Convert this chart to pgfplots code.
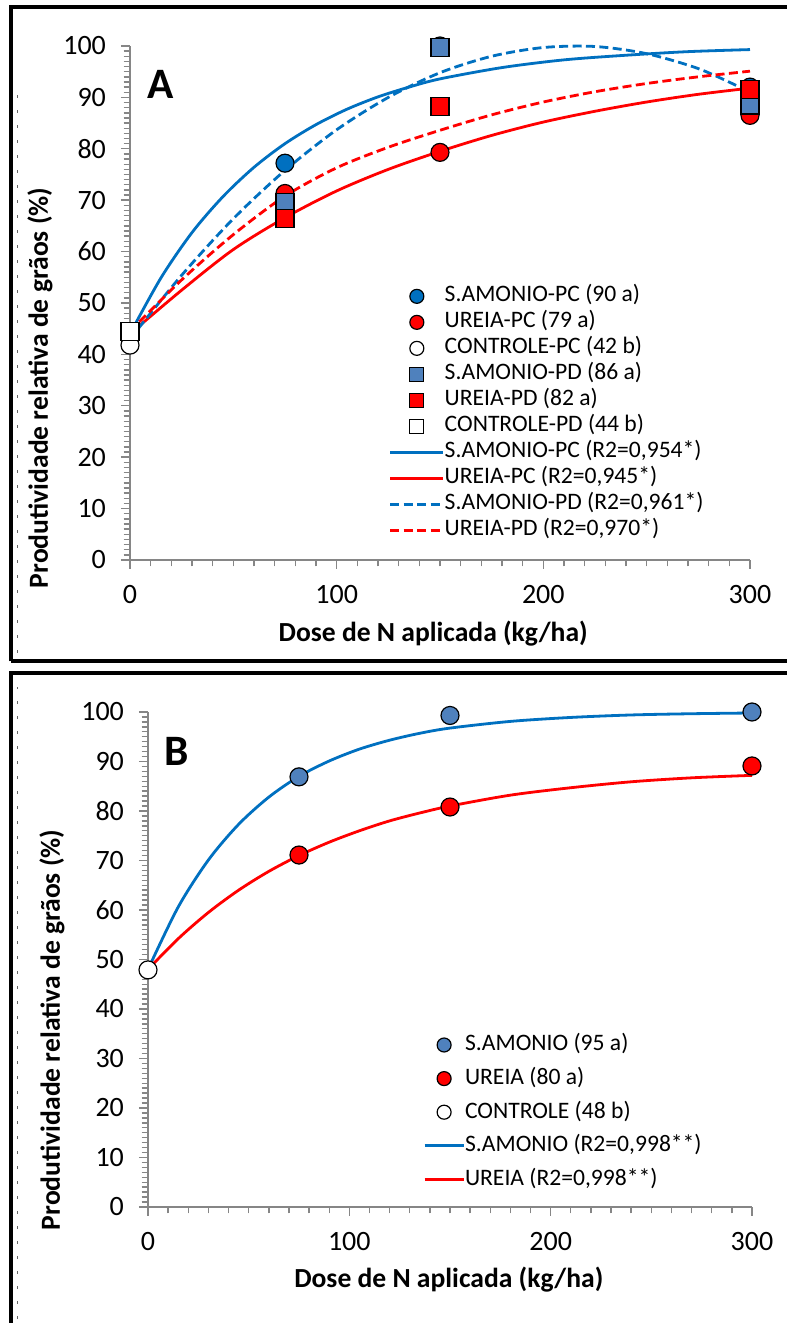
\documentclass[border=0pt]{standalone}
\usepackage{fontspec}
\setmainfont{Carlito}
\usepackage{pgfplots}
\pgfplotsset{compat=1.18}

\definecolor{xlblue}{HTML}{0070C0}
\definecolor{xlsteel}{HTML}{4F81BD}
\definecolor{xlred}{HTML}{FF0000}
\definecolor{axgray}{HTML}{868686}

\pgfplotsset{
  panel/.style={
    scale only axis, clip=false,
    axis lines*=left,
    axis line style={axgray, line width=0.9pt},
    xmin=0, xmax=300, ymin=0, ymax=100,
    xtick={0,100,200,300}, ytick={0,10,...,100},
    minor x tick num=9, minor y tick num=9,
    tick align=outside,
    major tick length=4.5pt, minor tick length=3.2pt,
    tick style={axgray, line width=0.7pt},
    tick label style={font=\fontsize{14}{16}\selectfont},
    xticklabel style={yshift=-4.5pt},
    yticklabel style={xshift=-4pt},
    /pgf/number format/assume math mode=true,
    legend cell align=left,
  },
  dot/.style={only marks, mark=*, mark size=4.5pt,
    mark options={draw=black, line width=0.6pt, fill=#1},
    legend image code/.code={\draw[##1, mark size=3.5pt] plot coordinates {(0pt,0pt)};}},
  sq/.style={only marks, mark=square*, mark size=4.5pt,
    mark options={draw=black, line width=0.6pt, fill=#1},
    legend image code/.code={\draw[##1, mark size=3.5pt] plot coordinates {(0pt,0pt)};}},
  fit/.style={no marks, line width=1.4pt, color=#1, smooth},
  longline/.style={legend image code/.code={\draw[##1] (-13.25pt,0pt) -- (13.25pt,0pt);}},
  shortline/.style={legend image code/.code={\draw[##1] (-9.75pt,0pt) -- (9.75pt,0pt);}},
  dashed fit/.style={dash pattern=on 4.5pt off 2.2pt},
}

\begin{document}
\begin{tikzpicture}
\fill[white] (0,0) rectangle (393.5pt,661.5pt);
% frames
\draw[line width=2pt] (5.25pt,330.75pt) -- (5.25pt,658pt) -- (400pt,658pt);
\draw[line width=2pt] (400pt,330.75pt) -- (5.25pt,330.75pt);
\draw[line width=2pt] (5.25pt,-5pt) -- (5.25pt,324.75pt) -- (400pt,324.75pt);
\draw[black!60, line width=0.5pt, dash pattern=on 1.5pt off 6pt] (8.5pt,335pt) -- (8.5pt,620pt);
\draw[black!60, line width=0.5pt, dash pattern=on 1.5pt off 6pt] (8.5pt,2pt) -- (8.5pt,318pt);

% ---------- panel A
\begin{axis}[panel,
  at={(65pt,381.5pt)}, anchor=south west,
  width=310pt, height=257pt,
  xlabel={Dose de N aplicada (kg/ha)},
  ylabel={Produtividade relativa de grãos (\%)},
  every axis x label/.style={at={(axis description cs:0.489,-0.1595)}, anchor=base,
    font=\bfseries\fontsize{13.8}{16}\selectfont},
  every axis y label/.style={at={(axis description cs:-0.145,0.335)}, anchor=center, rotate=90,
    font=\bfseries\fontsize{13.8}{16}\selectfont},
  legend style={at={(axis description cs:0.417,0.539)}, anchor=north west,
    draw=none, fill=none, inner sep=0pt, row sep=0pt,
    font=\fontsize{11.8}{14}\selectfont,
    nodes={inner sep=0pt, text height=9.2pt, text depth=3.8pt}},
  /tikz/every even column/.append style={column sep=1.5pt},
]
% fitted curves first, so the marks sit on top of them
\addplot[fit=xlblue, forget plot] coordinates {
  (0,44) (15,54.9) (30,63.7) (45,70.7) (60,76.4) (75,81) (90,84.7)
  (105,87.7) (120,90.1) (135,92) (150,93.6) (180,95.8) (210,97.3)
  (240,98.2) (270,98.9) (300,99.3)};
\addplot[fit=xlred, forget plot] coordinates {
  (0,44) (25,52.5) (50,60.4) (75,66.6)
  (100,71.8) (125,76) (150,79.5) (175,82.6) (200,85.2) (225,87.3)
  (250,89.1) (275,90.6) (300,91.8)};
\addplot[fit=xlblue, dashed fit, forget plot] coordinates {
  (0,43) (25,55.4) (50,66.4) (75,75.8) (100,83.7) (125,90) (150,94.8)
  (175,98) (200,99.7) (225,99.9) (250,98.5) (275,95.6) (295,92)};
\addplot[fit=xlred, dashed fit, forget plot] coordinates {
  (0,44.5) (25,54.5) (50,63.3) (75,70.8) (100,76.3) (125,80.3) (150,83.6)
  (175,86.6) (200,89.1) (225,91.1) (250,92.7) (275,94) (300,95.1)};
\addplot[dot=xlblue] coordinates {(75,77.2) (150,100) (300,92)};
\addlegendentry{S.AMONIO-PC (90 a)}
\addplot[dot=xlred] coordinates {(75,71.3) (150,79.3) (300,86.5)};
\addlegendentry{UREIA-PC (79 a)}
\addplot[dot=white] coordinates {(0,41.8)};
\addlegendentry{CONTROLE-PC (42 b)}
\addplot[sq=xlsteel] coordinates {(75,69.5) (150,99.7) (300,88.5)};
\addlegendentry{S.AMONIO-PD (86 a)}
\addplot[sq=xlred] coordinates {(75,66.5) (150,88.2) (300,91.5)};
\addlegendentry{UREIA-PD (82 a)}
\addplot[sq=white] coordinates {(0,44.5)};
\addlegendentry{CONTROLE-PD (44 b)}
\addlegendimage{fit=xlblue, longline}
\addlegendentry{S.AMONIO-PC (R2=0,954*)}
\addlegendimage{fit=xlred, longline}
\addlegendentry{UREIA-PC (R2=0,945*)}
\addlegendimage{fit=xlblue, dashed fit, longline}
\addlegendentry{S.AMONIO-PD (R2=0,961*)}
\addlegendimage{fit=xlred, dashed fit, longline}
\addlegendentry{UREIA-PD (R2=0,970*)}
\node[font=\bfseries\fontsize{21.7}{24}\selectfont] at (axis description cs:0.05,0.926) {A};
\end{axis}

% ---------- panel B
\begin{axis}[panel,
  at={(74pt,58pt)}, anchor=south west,
  width=302pt, height=247.5pt,
  xlabel={Dose de N aplicada (kg/ha)},
  ylabel={Produtividade relativa de grãos (\%)},
  every axis x label/.style={at={(axis description cs:0.498,-0.1636)}, anchor=base,
    font=\bfseries\fontsize{13.8}{16}\selectfont},
  every axis y label/.style={at={(axis description cs:-0.159,0.358)}, anchor=center, rotate=90,
    font=\bfseries\fontsize{13.8}{16}\selectfont},
  legend style={at={(axis description cs:0.455,0.362)}, anchor=north west,
    draw=none, fill=none, inner sep=0pt, row sep=0pt,
    font=\fontsize{11.8}{14}\selectfont,
    nodes={inner sep=0pt, text height=11.3pt, text depth=5.5pt}},
  /tikz/every even column/.append style={column sep=1.2pt},
]
\addplot[fit=xlblue, forget plot] coordinates {
  (0,48) (15,60.6) (30,70.1) (45,77.3) (60,82.8) (75,87) (90,90.1)
  (105,92.5) (120,94.3) (135,95.7) (150,96.75) (180,98.1) (210,98.9)
  (240,99.4) (270,99.65) (300,99.8)};
\addplot[fit=xlred, forget plot] coordinates {
  (0,48) (15,54.2) (30,59.5) (45,64) (60,67.8) (75,71) (90,73.7)
  (105,76) (120,78) (135,79.6) (150,81) (180,83.2) (210,84.7)
  (240,85.9) (270,86.7) (300,87.2)};
\addplot[dot=xlsteel] coordinates {(75,86.9) (150,99.3) (300,100)};
\addlegendentry{S.AMONIO (95 a)}
\addplot[dot=xlred] coordinates {(75,71.1) (150,80.8) (300,89.1)};
\addlegendentry{UREIA (80 a)}
\addplot[dot=white] coordinates {(0,47.9)};
\addlegendentry{CONTROLE (48 b)}
\addlegendimage{fit=xlblue, shortline}
\addlegendentry{S.AMONIO (R2=0,998**)}
\addlegendimage{fit=xlred, shortline}
\addlegendentry{UREIA (R2=0,998**)}
\node[font=\bfseries\fontsize{21.7}{24}\selectfont] at (axis description cs:0.048,0.921) {B};
\end{axis}
\pgfresetboundingbox
\useasboundingbox (0,0) rectangle (393.5pt,661.5pt);
\end{tikzpicture}
\end{document}
